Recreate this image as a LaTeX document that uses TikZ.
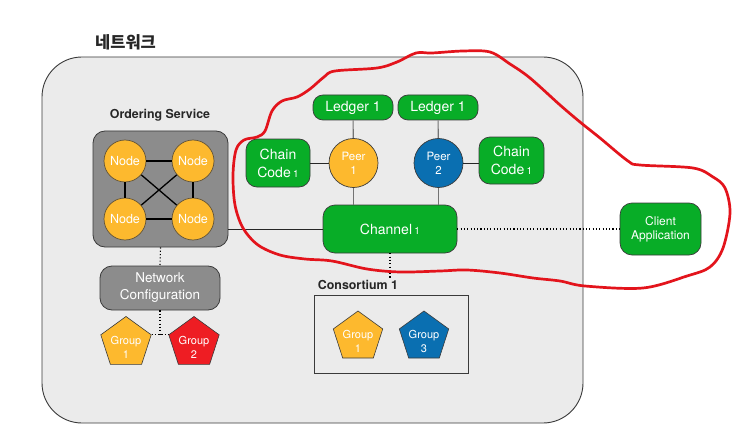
\documentclass[tikz,border=0pt]{standalone}
\usepackage{fontspec}
\setmainfont{TeX Gyre Heros}
\newfontfamily\krfont{Noto Sans CJK KR}
\usetikzlibrary{shapes.geometric}
\definecolor{bgbox}{HTML}{EBEBEB}
\definecolor{gfill}{HTML}{8C8C8C}
\definecolor{grn}{HTML}{08AD27}
\definecolor{org}{HTML}{FDB92E}
\definecolor{blu}{HTML}{0A6FB1}
\definecolor{rd}{HTML}{EE1D23}
\definecolor{redpen}{HTML}{E3141C}
\definecolor{edge}{HTML}{3A3A3A}
\tikzset{
  fs/.style 2 args={font=\fontsize{#1}{#2}\selectfont},
  outerbox/.style={draw=edge, line width=0.9pt, fill=bgbox, rounded corners=40pt},
  graybox/.style={draw=edge, line width=0.8pt, fill=gfill, rounded corners=12pt, text=white, align=center, inner sep=0pt},
  greenbox/.style={draw=edge, line width=0.7pt, fill=grn, rounded corners=11pt, text=white, align=center, inner sep=0pt},
  ordnode/.style={circle, draw=edge!80!org, line width=0.7pt, fill=org, minimum size=42pt, inner sep=0pt, text=white, fs={12.5}{14}},
  peernode/.style={circle, draw=edge, line width=0.7pt, minimum size=49pt, inner sep=0pt, text=white, align=center, fs={11.5}{14}},
  pent/.style={regular polygon, regular polygon sides=5, draw=edge, line width=0.6pt, minimum size=53pt, inner sep=0pt},
  penttext/.style={text=white, align=center, fs={11}{14}, inner sep=0pt},
  conn/.style={draw=black, line width=1.3pt},
  thinconn/.style={draw=black!85, line width=0.8pt},
  grayconn/.style={draw=gray!90!black, line width=1.1pt},
  dotline/.style={draw=black, line width=1.1pt, dash pattern=on 1.1pt off 2.2pt},
  heading/.style={font=\fontsize{12.4}{14}\selectfont\bfseries, text=black!85, inner sep=0pt},
}
\begin{document}
\begin{tikzpicture}[x=1pt,y=-1pt]
\useasboundingbox (0,0) rectangle (733,441);
\fill[white] (0,0) rectangle (733,441);
% outer network box
\node[outerbox, minimum width=541pt, minimum height=366pt, inner sep=0pt] (outer) at (312.5,240) {};
\node[font=\krfont\bfseries\fontsize{16.5}{18}\selectfont, inner sep=0pt, text=black!85] (title) at (125.5,42) {네트워크};

% ordering service
\node[heading] (ordlabel) at (160,115) {Ordering Service};
\node[graybox, minimum width=135pt, minimum height=116pt] (ordbox) at (160.5,189) {};
\node[ordnode] (n1) at (125,161) {Node};
\node[ordnode] (n2) at (193,161) {Node};
\node[ordnode] (n3) at (125,219) {Node};
\node[ordnode] (n4) at (193,219) {Node};
\draw[conn] (n1) -- (n2);
\draw[conn] (n1) -- (n3);
\draw[conn] (n2) -- (n4);
\draw[conn] (n3) -- (n4);
\draw[conn] (n1) -- (n4);
\draw[conn] (n2) -- (n3);

% network configuration
\node[graybox, minimum width=120pt, minimum height=44pt, fs={13.5}{17}] (netconf) at (160,288) {Network\\Configuration};
\draw[dotline] (ordbox.south) -- (netconf.north);
\node[pent, fill=org] (g1) at (126,343) {};
\node[pent, fill=rd] (g2) at (194,343) {};
\node[penttext] (g1t) at ([yshift=-4pt]g1.center) {Group\\1};
\node[penttext] (g2t) at ([yshift=-4pt]g2.center) {Group\\2};
\coordinate (jn) at (160,335);
\draw[dotline] (netconf.south) -- (jn);
\draw[dotline] (g1.corner 5) -- (g2.corner 2);

% channel
\node[greenbox, minimum width=134pt, minimum height=48pt, rounded corners=12pt, fs={14}{17}] (channel) at (390,229) {Channel\,{\fontsize{10}{12}\selectfont 1}};
\draw[thinconn] (channel.west -| ordbox.east) -- (channel.west);

% ledgers & peers
\node[greenbox, minimum width=80pt, minimum height=25pt, rounded corners=10pt, fs={14}{17}] (ledger1) at (353,107.5) {Ledger 1};
\node[greenbox, minimum width=80pt, minimum height=25pt, rounded corners=10pt, fs={14}{17}] (ledger2) at (438,107.5) {Ledger 1};
\node[peernode, fill=org] (peer1) at (353.5,163) {Peer\\1};
\node[peernode, fill=blu] (peer2) at (438.5,163) {Peer\\2};
\draw[grayconn] (ledger1) -- (peer1);
\draw[grayconn] (ledger2) -- (peer2);
\draw[grayconn] (peer1) -- (peer1 |- channel.north);
\draw[grayconn] (peer2) -- (peer2 |- channel.north);

% chain codes
\node[greenbox, minimum width=64pt, minimum height=48pt, fs={14}{18}] (cc1) at (278,163) {Chain\\Code\,{\fontsize{10}{12}\selectfont 1}};
\node[greenbox, minimum width=65pt, minimum height=47pt, fs={14}{18}] (cc2) at (511.5,160.5) {Chain\\Code\,{\fontsize{10}{12}\selectfont 1}};
\draw[thinconn] (cc1) -- (peer1);
\draw[thinconn] (peer2.east) -- (peer2.east -| cc2.west);

% client application
\node[greenbox, minimum width=81pt, minimum height=52pt, rounded corners=12pt, fs={12}{14}] (client) at (660.5,229) {Client\\Application};
\draw[dotline] (channel.east) -- (client.west);

% consortium
\coordinate (ct) at (390,279);
\draw[dotline] (channel.south) -- (ct);
\node[heading] (conslabel) at (358,285) {Consortium 1};
\node[draw=edge, line width=0.8pt, minimum width=154pt, minimum height=78pt, inner sep=0pt] (consbox) at (391,334) {};
\node[pent, fill=org, minimum size=52pt] (cg1) at (358,337) {};
\node[pent, fill=blu, minimum size=52pt] (cg3) at (424,337) {};
\node[penttext] (cg1t) at ([yshift=-4pt]cg1.center) {Group\\1};
\node[penttext] (cg3t) at ([yshift=-4pt]cg3.center) {Group\\3};

% red freehand loop
\draw[redpen, line width=2.7pt, line join=round, line cap=round]
  plot[smooth cycle, tension=0.55] coordinates {
  (416,53) (397,62) (377,68) (335,71) (324,77) (310,89) (297,97) (282,101)
  (272,111) (265,131) (257,137) (244,140) (236,150) (233,175) (235,205)
  (243,228) (258,245) (280,255) (305,259) (332,261) (367,269) (400,272)
  (440,271) (467,270) (500,273) (533,278) (560,281) (585,286) (643,288)
  (687,276) (710,267) (723,248) (730,213) (725,188) (713,177) (693,168)
  (640,165) (628,161) (600,138) (580,122) (560,105) (530,78) (510,64)
  (490,52) (463,51) (432,53)};
\end{tikzpicture}
\end{document}
